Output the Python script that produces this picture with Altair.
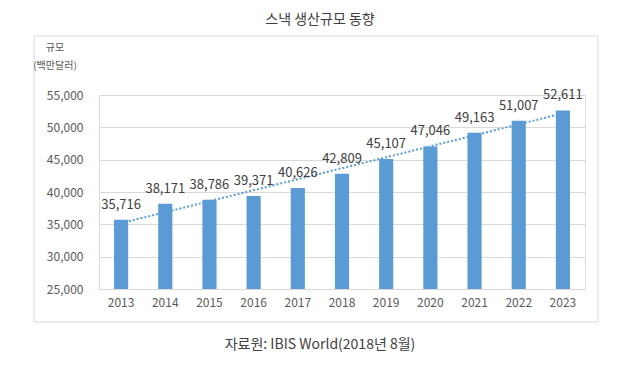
import altair as alt
import pandas as pd

years = [2013, 2014, 2015, 2016, 2017, 2018, 2019, 2020, 2021, 2022, 2023]
values = [35716, 38171, 38786, 39371, 40626, 42809, 45107, 47046, 49163, 51007, 52611]
y_ticks = [25000, 30000, 35000, 40000, 45000, 50000, 55000]

title_text = "스낵 생산규모 동향"
y_title_1 = "규모"
y_title_2 = "(백만달러)"
source_text = "자료원: IBIS World(2018년 8월)"

df = pd.DataFrame({"year": years, "value": values})

FONT = "Noto Sans CJK KR"
BLUE = "#5b9bd5"

x_enc = alt.X("year:O", title=None,
              scale=alt.Scale(paddingInner=0.68, paddingOuter=0.34),
              axis=alt.Axis(labelAngle=0, labelFontSize=12, labelColor="#595959",
                            labelFont=FONT, ticks=False, domain=True,
                            domainColor="#d9d9d9", labelPadding=8, grid=False))
y_enc = alt.Y("value:Q", title=None,
              scale=alt.Scale(domain=[25000, 55000], nice=False, zero=False),
              axis=alt.Axis(values=y_ticks, format=",.0f", labelFontSize=12,
                            labelColor="#595959", labelFont=FONT, ticks=False,
                            labelOverlap=False, labelFlush=False,
                            domain=False, gridColor="#d9d9d9", labelPadding=16))

base = alt.Chart(df).encode(x=x_enc, y=y_enc)

bars = base.mark_bar(color=BLUE, clip=True)

labels = base.mark_text(dy=-15, fontSize=13, color="#404040", font=FONT).encode(
    text=alt.Text("value:Q", format=","))

trend = alt.Chart(df).transform_regression("year", "value").mark_line(
    color=BLUE, strokeDash=[2, 2], strokeWidth=2).encode(x=x_enc, y=y_enc)

one = pd.DataFrame({"k": [0]})

frame = alt.Chart(one).mark_rect(fill=None, stroke="#d9d9d9", strokeWidth=1, clip=False).encode(
    x=alt.value(-65), x2=alt.value(499), y=alt.value(-59), y2=alt.value(227))

title = alt.Chart(one).mark_text(fontSize=14, color="#404040", font=FONT).encode(
    x=alt.value(221), y=alt.value(-75), text=alt.value(title_text))

yt1 = alt.Chart(one).mark_text(fontSize=10, color="#595959", font=FONT).encode(
    x=alt.value(-44), y=alt.value(-47), text=alt.value(y_title_1))
yt2 = alt.Chart(one).mark_text(fontSize=10, color="#595959", font=FONT).encode(
    x=alt.value(-44), y=alt.value(-29), text=alt.value(y_title_2))

source = alt.Chart(one).mark_text(fontSize=14, color="#404040", font=FONT).encode(
    x=alt.value(221), y=alt.value(250), text=alt.value(source_text))

chart = alt.layer(frame, bars, trend, labels, title, yt1, yt2, source).properties(
    width=486, height=194,
    autosize=alt.AutoSizeParams(type="none"),
    padding={"left": 91, "top": 87, "right": 46, "bottom": 71},
).configure_view(stroke=None).configure(background="white")

chart.save("out.html", embed_options={"renderer": "svg", "actions": False})
